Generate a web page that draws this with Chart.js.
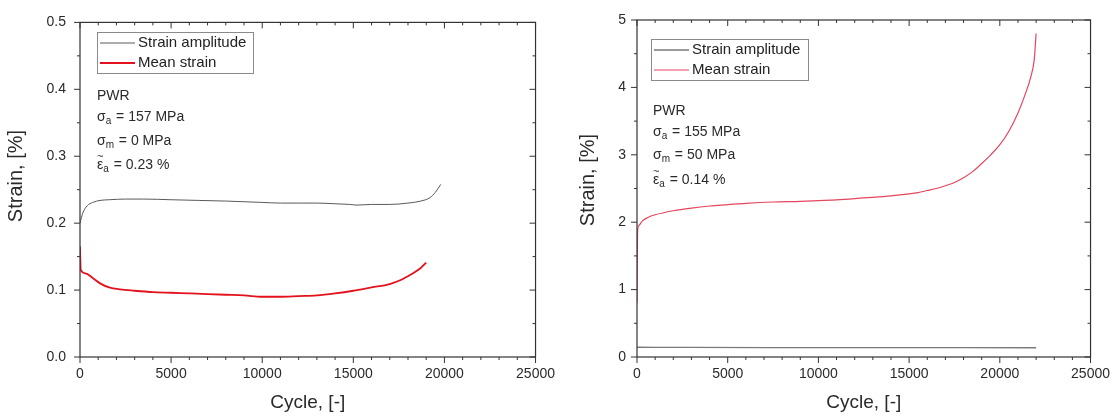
<!DOCTYPE html>
<html>
<head>
<meta charset="utf-8">
<script src="https://cdn.jsdelivr.net/npm/chart.js@4.4.0/dist/chart.umd.min.js"></script>
<style>
  html, body { margin: 0; padding: 0; background: #fff; }
  #wrap { position: relative; width: 1117px; height: 416px; overflow: hidden; }
  .panel { position: absolute; top: 0; height: 416px; }
</style>
</head>
<body>
<div id="wrap">
  <div class="panel" style="left:0;width:564px"><canvas id="leftChart" width="564" height="416"></canvas></div>
  <div class="panel" style="left:559px;width:560px"><canvas id="rightChart" width="560" height="416"></canvas></div>
</div>
<script>
// Left panel: sigma_m = 0 MPa
const cyclesAmp1 = [0, 150, 400, 700, 1100, 1600, 2500, 3500, 5000, 6500, 8000, 9000, 10000, 11000, 12000, 13000, 14000, 14800, 15200, 16000, 17000, 18000, 18700, 19200, 19500, 19800];
const strainAmp1 = [0.200, 0.215, 0.226, 0.231, 0.234, 0.235, 0.236, 0.236, 0.235, 0.234, 0.233, 0.232, 0.231, 0.230, 0.230, 0.230, 0.229, 0.228, 0.227, 0.228, 0.228, 0.230, 0.233, 0.238, 0.246, 0.258];
const cyclesMean1 = [0, 40, 300, 700, 1100, 1600, 2200, 3000, 4000, 5000, 6000, 7000, 8000, 9000, 10000, 11000, 12000, 13000, 14000, 15000, 16000, 17000, 17600, 18200, 18700, 19000];
const meanStrain1 = [0.165, 0.130, 0.125, 0.118, 0.110, 0.104, 0.101, 0.099, 0.097, 0.096, 0.095, 0.094, 0.093, 0.092, 0.090, 0.090, 0.091, 0.092, 0.095, 0.099, 0.104, 0.109, 0.115, 0.124, 0.133, 0.141];

// Right panel: sigma_m = 50 MPa
const cyclesAmp2 = [0, 3000, 8000, 13000, 18000, 22000];
const strainAmp2 = [0.145, 0.142, 0.140, 0.139, 0.138, 0.137];
const cyclesMean2 = [0, 30, 100, 300, 600, 1000, 2000, 3000, 4000, 5000, 6000, 7500, 9000, 10000, 11000, 12500, 14000, 15000, 15500, 16000, 16500, 17000, 17500, 18000, 18500, 19000, 19500, 20000, 20500, 21000, 21400, 21700, 21900, 22000];
const meanStrain2 = [0.8, 1.85, 1.95, 2.02, 2.07, 2.11, 2.17, 2.21, 2.24, 2.26, 2.28, 2.30, 2.31, 2.32, 2.33, 2.36, 2.39, 2.42, 2.44, 2.47, 2.50, 2.54, 2.59, 2.66, 2.75, 2.87, 3.00, 3.15, 3.35, 3.62, 3.90, 4.15, 4.42, 4.80];

const seriesLabels = ['Strain amplitude', 'Mean strain'];
const xTitle = 'Cycle, [-]';
const yTitle = 'Strain, [%]';

// annotation lines (segments: text, subscript, tilde accent)
const notes1 = [
  [{ t: 'PWR' }],
  [{ t: 'σ' }, { t: 'a', sub: true }, { t: ' = 157 MPa' }],
  [{ t: 'σ' }, { t: 'm', sub: true }, { t: ' = 0 MPa' }],
  [{ t: 'ε', tilde: true }, { t: 'a', sub: true }, { t: ' = 0.23 %' }]
];
const notes2 = [
  [{ t: 'PWR' }],
  [{ t: 'σ' }, { t: 'a', sub: true }, { t: ' = 155 MPa' }],
  [{ t: 'σ' }, { t: 'm', sub: true }, { t: ' = 50 MPa' }],
  [{ t: 'ε', tilde: true }, { t: 'a', sub: true }, { t: ' = 0.14 %' }]
];

const FONT = '"Liberation Sans", Arial, Helvetica, sans-serif';
Chart.defaults.font.family = FONT;
Chart.defaults.color = '#2a2a2a';

function toPoints(xs, ys) {
  return xs.map((x, i) => ({ x: x, y: ys[i] }));
}

// frame, mirrored ticks, y title, legend box and text block
const decoPlugin = {
  id: 'deco',
  afterDraw(chart, args, opts) {
    const ctx = chart.ctx;
    const a = chart.chartArea;
    const xs = chart.scales.x, ys = chart.scales.y;
    ctx.save();
    ctx.strokeStyle = '#333';
    ctx.lineWidth = 1.2;
    ctx.strokeRect(a.left, a.top, a.right - a.left, a.bottom - a.top);

    function seg(x1, y1, x2, y2) {
      ctx.beginPath(); ctx.moveTo(x1, y1); ctx.lineTo(x2, y2); ctx.stroke();
    }
    ctx.lineWidth = 1;
    // x ticks: all pointing down
    let n = Math.round((xs.max - xs.min) / opts.xMinor);
    for (let i = 0; i <= n; i++) {
      const v = xs.min + i * opts.xMinor;
      const px = xs.getPixelForValue(v);
      const len = (i % opts.xPer === 0) ? 6 : 3;
      seg(px, a.bottom, px, a.bottom + len);
      seg(px, a.top, px, a.top + len);
    }
    // y ticks: all pointing left
    n = Math.round((ys.max - ys.min) / opts.yMinor);
    for (let i = 0; i <= n; i++) {
      const v = ys.min + i * opts.yMinor;
      const py = ys.getPixelForValue(v);
      const len = (i % opts.yPer === 0) ? 6 : 3;
      seg(a.left, py, a.left - len, py);
      seg(a.right, py, a.right - len, py);
    }

    // y axis title
    ctx.save();
    ctx.translate(opts.yTitle.x, opts.yTitle.y);
    ctx.rotate(-Math.PI / 2);
    ctx.font = '20px ' + FONT;
    ctx.fillStyle = '#2a2a2a';
    ctx.textAlign = 'center';
    ctx.textBaseline = 'middle';
    ctx.fillText(yTitle, 0, 0);
    ctx.restore();

    // legend
    const lg = opts.legend;
    ctx.strokeStyle = '#8a8a8a';
    ctx.lineWidth = 1;
    ctx.strokeRect(lg.x + 0.5, lg.y + 0.5, lg.w, lg.h);
    ctx.font = '15px ' + FONT;
    ctx.textBaseline = 'middle';
    ctx.textAlign = 'left';
    chart.data.datasets.forEach((ds, i) => {
      const ry = lg.rows[i];
      ctx.strokeStyle = ds.borderColor;
      ctx.lineWidth = ds.borderWidth;
      seg(lg.x + 3, ry, lg.x + 38, ry);
      ctx.fillStyle = '#222';
      ctx.fillText(ds.label, lg.x + 41, ry);
    });

    // text block
    const nt = opts.notes;
    ctx.fillStyle = '#2a2a2a';
    ctx.textBaseline = 'alphabetic';
    nt.lines.forEach((line, li) => {
      let cx = nt.x;
      const by = nt.rows[li];
      line.forEach(s => {
        ctx.font = (s.sub ? '10px ' : '14px ') + FONT;
        const yy = s.sub ? by + 3 : by;
        ctx.fillText(s.t, cx, yy);
        const w = ctx.measureText(s.t).width;
        if (s.tilde) {
          ctx.font = '11px ' + FONT;
          ctx.textAlign = 'center';
          ctx.fillText('~', cx + w / 2, by - 9);
          ctx.textAlign = 'left';
        }
        cx += w + (s.sub ? 1 : 0);
      });
    });
    ctx.restore();
  }
};

function makeChart(id, cfg) {
  const ctx = document.getElementById(id).getContext('2d');
  return new Chart(ctx, {
    type: 'line',
    data: {
      datasets: [
        {
          label: seriesLabels[0],
          data: cfg.amp,
          borderColor: cfg.ampColor,
          borderWidth: cfg.ampWidth,
          pointRadius: 0,
          cubicInterpolationMode: 'monotone',
          fill: false
        },
        {
          label: seriesLabels[1],
          data: cfg.mean,
          borderColor: cfg.meanColor,
          borderWidth: cfg.meanWidth,
          pointRadius: 0,
          cubicInterpolationMode: 'monotone',
          fill: false
        }
      ]
    },
    options: {
      responsive: false,
      animation: false,
      layout: { padding: { left: 0, right: 20, top: 20, bottom: 0 } },
      plugins: {
        legend: { display: false },
        tooltip: { enabled: false },
        deco: cfg.deco
      },
      scales: {
        x: {
          type: 'linear',
          min: 0,
          max: 25000,
          grid: { display: false, drawTicks: false },
          border: { display: false },
          ticks: { stepSize: 5000, padding: 9, font: { size: 14 }, maxRotation: 0, callback: v => String(v) },
          title: { display: true, text: xTitle, font: { size: 19 }, padding: { top: 0, bottom: 2 } },
          afterFit: s => { s.height = 59; }
        },
        y: {
          type: 'linear',
          min: 0,
          max: cfg.yMax,
          grid: { display: false, drawTicks: false },
          border: { display: false },
          ticks: { stepSize: cfg.yStep, padding: cfg.yPad, font: { size: 14 }, callback: cfg.yFmt },
          title: { display: false },
          afterFit: s => { s.width = cfg.yWidth; }
        }
      }
    },
    plugins: [decoPlugin]
  });
}

makeChart('leftChart', {
  amp: toPoints(cyclesAmp1, strainAmp1),
  mean: toPoints(cyclesMean1, meanStrain1),
  ampColor: '#5a5a5a', ampWidth: 1,
  meanColor: '#e3121c', meanWidth: 1.8,
  yWidth: 80,
  yMax: 0.5, yStep: 0.1, yPad: 14,
  yFmt: v => v.toFixed(1),
  deco: {
    xMinor: 1000, xPer: 5,
    yMinor: 0.05, yPer: 2,
    yTitle: { x: 16, y: 176 },
    legend: { x: 97, y: 32, w: 156, h: 41, rows: [43, 63] },
    notes: { x: 97, rows: [100, 121, 145, 169], lines: notes1 }
  }
});

makeChart('rightChart', {
  amp: toPoints(cyclesAmp2, strainAmp2),
  mean: toPoints(cyclesMean2, meanStrain2),
  ampColor: '#7a7a7a', ampWidth: 1.3,
  meanColor: '#e4465e', meanWidth: 1.2,
  yWidth: 78,
  yMax: 5, yStep: 1, yPad: 11,
  yFmt: v => String(v),
  deco: {
    xMinor: 1000, xPer: 5,
    yMinor: 0.5, yPer: 2,
    yTitle: { x: 29, y: 180 },
    legend: { x: 92, y: 39, w: 157, h: 41, rows: [50, 70] },
    notes: { x: 94, rows: [115, 136, 159, 184], lines: notes2 }
  }
});
</script>
</body>
</html>
